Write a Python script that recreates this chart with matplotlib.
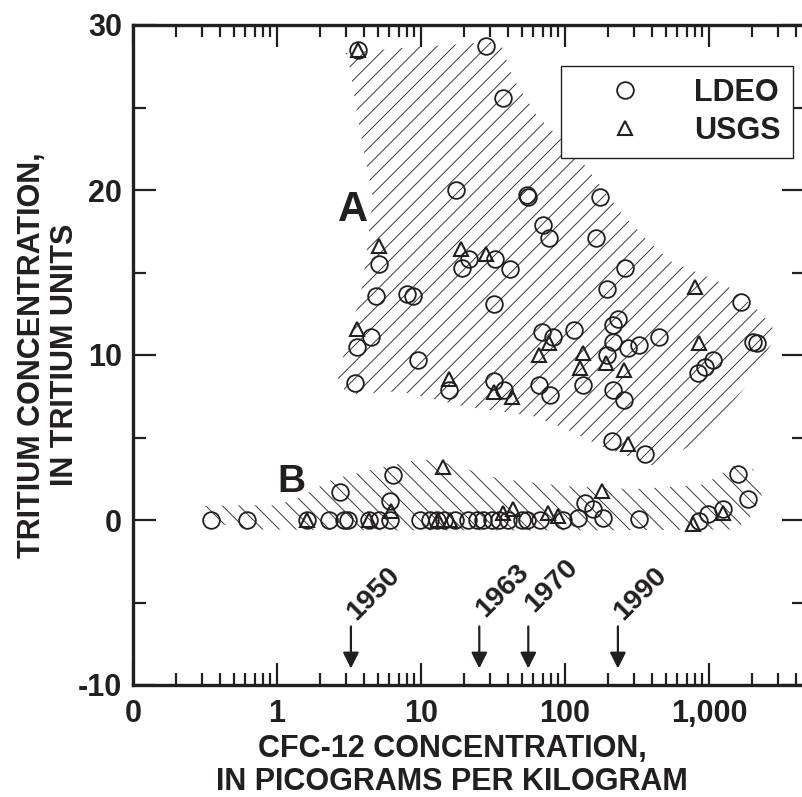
import numpy as np
import matplotlib
matplotlib.use("Agg")
import matplotlib.pyplot as plt
from matplotlib.patches import Polygon
from matplotlib.ticker import FixedLocator, LogLocator, NullFormatter, MultipleLocator

plt.rcParams['font.family'] = ['Liberation Sans', 'DejaVu Sans']
plt.rcParams['font.weight'] = 'bold'
plt.rcParams['hatch.linewidth'] = 0.7
plt.rcParams['axes.unicode_minus'] = False

INK = '#231f20'

# LDEO samples (CFC-12 pg/kg, tritium TU)
ldeo_cfc = [3.67, 28.3, 36.9, 17.5, 54.2, 55.6, 175, 70.6, 77.4, 163, 21.5, 32.6, 19.2, 41.5, 262,
            5.13, 4.87, 8.04, 8.76, 4.47, 3.61, 9.58, 3.48, 32.3, 195, 1660, 68.9, 82.2, 116, 234,
            216, 216, 275, 325, 448, 197, 2032, 2165, 1072, 938, 835, 15.6, 32.3, 37.7, 66.3, 78.7,
            134, 216, 257, 211, 359,
            0.35, 0.62, 1.62, 2.31, 2.92, 3.13, 4.37, 5.13, 6.09, 9.84, 11.6, 13.0, 14.5, 17.2, 21.3,
            24.4, 27.1, 31.0, 35.0, 40.4, 50.0, 54.2, 67.0, 96.4, 124, 328, 857, 989, 1257, 183, 157,
            138, 2.74, 6.42, 6.09, 1596, 1875]
ldeo_tritium = [28.5, 28.7, 25.6, 20.0, 19.7, 19.6, 19.6, 17.9, 17.1, 17.1, 15.8, 15.8, 15.3, 15.2, 15.3,
                15.5, 13.6, 13.7, 13.6, 11.1, 10.5, 9.7, 8.3, 13.1, 14.0, 13.2, 11.4, 11.1, 11.5, 12.2,
                11.8, 10.8, 10.4, 10.6, 11.1, 10.0, 10.8, 10.7, 9.7, 9.3, 8.9, 7.9, 8.4, 7.9, 8.2, 7.6,
                8.2, 7.9, 7.3, 4.8, 4.0,
                0.0, 0.0, 0.0, 0.0, 0.0, 0.0, 0.0, 0.0, 0.0, 0.0, 0.0, 0.0, 0.0, 0.0, 0.0,
                0.0, 0.0, 0.0, 0.0, 0.0, 0.0, 0.0, 0.0, 0.0, 0.1, 0.05, -0.05, 0.35, 0.65, 0.15, 0.65,
                1.05, 1.7, 2.7, 1.15, 2.8, 1.25]

# USGS samples
usgs_cfc = [3.67, 5.13, 3.61, 19.0, 28.3, 77.8, 66.3, 133, 127, 193, 257, 800, 857, 15.6, 32.3, 42.9, 272,
            1.62, 6.16, 14.3, 4.37, 13.2, 15.9, 37.3, 43.7, 76.5, 89.8, 180, 771, 1257]
usgs_tritium = [28.5, 16.6, 11.6, 16.45, 16.1, 10.7, 10.0, 10.1, 9.2, 9.5, 9.1, 14.1, 10.7, 8.55, 7.75, 7.45, 4.6,
                0.0, 0.55, 3.2, 0.0, 0.0, 0.0, 0.45, 0.65, 0.45, 0.25, 1.75, -0.25, 0.45]

# outline of shaded zone A
zone_a_cfc = [2.97, 7.15, 35.4, 43.5, 63.9, 121, 175, 241, 359, 536, 1066, 1334, 2021, 2738, 2870,
              2335, 1926, 866, 408, 175, 103, 60, 20.9, 7.15, 3.06, 2.61, 3.37, 3.96, 4.64, 3.77, 3.11]
zone_a_tritium = [28.3, 28.6, 29.0, 26.8, 24.5, 22.1, 20.3, 18.7, 17.1, 15.7, 14.6, 14.2, 13.0, 11.8, 11.0,
                  9.75, 8.4, 4.8, 3.3, 4.5, 5.5, 6.3, 6.85, 7.8, 7.6, 8.7, 11.8, 14.45, 19.5, 23.6, 28.1]

# outline of shaded zone B
zone_b_cfc = [0.292, 0.472, 1.0, 1.44, 2.45, 5.8, 9.84, 14.2, 35.4, 103, 297, 866, 1066, 1468, 2021,
              2335, 1926, 1516, 175, 7.15, 0.649, 0.316]
zone_b_tritium = [0.83, 0.89, 0.89, 1.38, 2.48, 3.26, 3.69, 3.51, 2.48, 2.05, 1.87, 2.11, 2.48, 3.26, 3.08,
                  1.44, 0.16, -0.57, -0.63, -0.63, -0.57, -0.08]

# atmospheric CFC-12 markers
years = ['1950', '1963', '1970', '1990']
year_cfc = [3.26, 25.4, 55.6, 233]
year_text_tritium = [-6.14, -5.93, -5.63, -6.14]

x_ticks = [0.1, 1, 10, 100, 1000]
x_tick_labels = ['0', '1', '10', '100', '1,000']

fig = plt.figure(figsize=(8.03, 7.97), dpi=100)
ax = fig.add_axes([133 / 803, 112 / 797, 672 / 803, 660 / 797])

ax.add_patch(Polygon(np.column_stack([zone_a_cfc, zone_a_tritium]), closed=True,
                     facecolor='none', edgecolor='#3a3a3a', lw=0, hatch='//', zorder=1))
ax.add_patch(Polygon(np.column_stack([zone_b_cfc, zone_b_tritium]), closed=True,
                     facecolor='none', edgecolor='#3a3a3a', lw=0, hatch='\\\\', zorder=1))

ax.plot(ldeo_cfc, ldeo_tritium, ls='none', marker='o', ms=12, mfc='none', mec=INK, mew=1.3,
        label='LDEO', zorder=3)
ax.plot(usgs_cfc, usgs_tritium, ls='none', marker='^', ms=9.5, mfc='none', mec=INK, mew=1.5,
        label='USGS', zorder=3)

ax.text(3.37, 18.1, 'A', fontsize=30, fontweight='bold', ha='center', va='baseline', color=INK)
ax.text(1.25, 1.67, 'B', fontsize=28, fontweight='bold', ha='center', va='baseline', color=INK)

for yr, xc, yt in zip(years, year_cfc, year_text_tritium):
    ax.annotate('', xy=(xc, -9.0), xytext=(xc, -6.45),
                arrowprops=dict(arrowstyle='-|>', lw=1.6, color=INK, mutation_scale=24,
                                shrinkA=0, shrinkB=0))
    ax.annotate(yr, xy=(xc, yt), xytext=(4, 0), textcoords='offset points', rotation=45,
                rotation_mode='anchor', ha='left', va='baseline', fontsize=20.5,
                fontweight='bold', color=INK)

ax.set_xscale('log')
ax.set_xlim(0.1, 0.1 * 10 ** (672 / 144))
ax.set_ylim(-10, 30)
ax.xaxis.set_major_locator(FixedLocator(x_ticks))
ax.xaxis.set_minor_locator(LogLocator(base=10, subs=np.arange(2, 10)))
ax.xaxis.set_minor_formatter(NullFormatter())
ax.set_xticklabels(x_tick_labels)
ax.yaxis.set_major_locator(MultipleLocator(10))
ax.yaxis.set_minor_locator(MultipleLocator(5))

ax.tick_params(which='both', direction='in', top=True, right=True, width=1.6, color=INK,
               labelsize=22, labelcolor=INK)
ax.tick_params(axis='x', which='major', length=16, pad=10)
ax.tick_params(axis='x', which='minor', length=8.5)
ax.tick_params(axis='y', which='major', length=16.5, pad=8)
ax.tick_params(axis='y', which='minor', length=9.5)
for lab in ax.get_xticklabels() + ax.get_yticklabels():
    lab.set_fontweight('bold')
for sp in ax.spines.values():
    sp.set_linewidth(2.4)
    sp.set_color(INK)

ax.set_xlabel('CFC-12 CONCENTRATION,\nIN PICOGRAMS PER KILOGRAM', fontsize=22,
              fontweight='bold', color=INK, linespacing=1.15)
ax.xaxis.set_label_coords((452 - 133) / 672, -0.074)
ax.set_ylabel('TRITIUM CONCENTRATION,\nIN TRITIUM UNITS', fontsize=22,
              fontweight='bold', color=INK, linespacing=1.15)
ax.yaxis.set_label_coords((80 - 133) / 672, 0.5)

leg = ax.legend(loc='upper right', bbox_to_anchor=(0.9816, 0.9383), borderaxespad=0,
                frameon=True, fancybox=False, edgecolor=INK, framealpha=1,
                prop=dict(size=22, weight='bold'), handlelength=3.4, handletextpad=0.55,
                borderpad=0.4, labelspacing=0.25)
leg.get_frame().set_linewidth(1.0)
for t in leg.get_texts():
    t.set_color(INK)

fig.savefig('out.png', dpi=100)
